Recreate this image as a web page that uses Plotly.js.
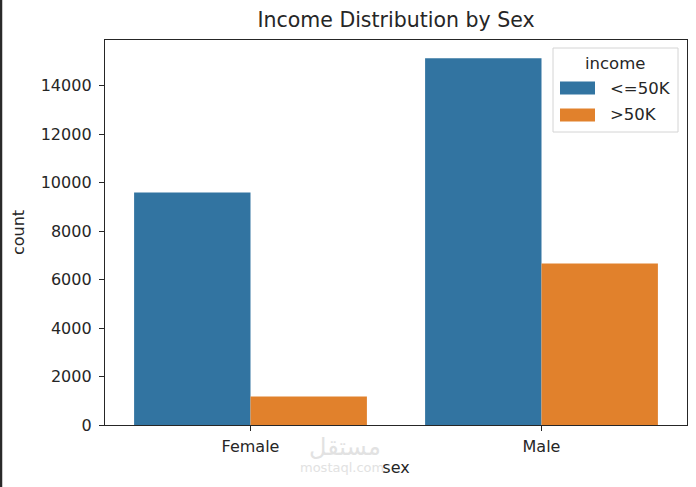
<!DOCTYPE html>
<html>
<head>
<meta charset="utf-8">
<script src="https://cdn.plot.ly/plotly-3.0.1.min.js"></script>
<style>html,body{margin:0;padding:0;background:#fff;}#chart{width:696px;height:487px;}</style>
</head>
<body>
<div id="chart"></div>
<script>
const sexes = ['Female', 'Male'];
const incomeLevels = ['<=50K', '>50K'];
const countLe50K = [9592, 15128];
const countGt50K = [1179, 6662];
const yTicks = [0, 2000, 4000, 6000, 8000, 10000, 12000, 14000];

const colors = ['#3274a1', '#e1812c'];
const F = 'DejaVu Sans, sans-serif';
const series = [countLe50K, countGt50K];

const traces = series.map((vals, i) => ({
  type: 'bar', x: sexes, y: vals, name: incomeLevels[i],
  marker: {color: colors[i], line: {width: 0}},
  showlegend: false, hoverinfo: 'x+y'
}));

const ymax = Math.max(...countLe50K, ...countGt50K) * 1.05;

// Legend built with shapes/annotations (matplotlib style)
const W = 582, H = 385;
const px = v => (v - 105) / W;
const py = v => 1 - (v - 40) / H;
const shapes = [
  {type:'rect', xref:'paper', yref:'paper', x0:px(553), x1:px(678), y0:py(132), y1:py(48),
   line:{color:'#d4d4d4', width:1}, fillcolor:'rgba(255,255,255,0.8)', layer:'above'},
  {type:'line', xref:'paper', yref:'paper', x0:px(1), x1:px(1), y0:py(487), y1:py(0),
   line:{color:'#2a2a2a', width:2.5}}
];
const annotations = [
  {text:'income', xref:'paper', yref:'paper', x:px(615), y:py(63), showarrow:false,
   xanchor:'center', yanchor:'middle', font:{family:F, size:16.5, color:'#262626'}},
  {text:'مستقل', xref:'paper', yref:'paper', x:px(345), y:py(447), showarrow:false,
   xanchor:'center', yanchor:'middle', font:{family:'DejaVu Sans, sans-serif', size:24, color:'#e2e2e2'}},
  {text:'mostaql.com', xref:'paper', yref:'paper', x:px(342), y:py(467), showarrow:false,
   xanchor:'center', yanchor:'middle', font:{family:F, size:13, color:'#e2e2e2'}}
];
incomeLevels.forEach((lab, i) => {
  const yc = 88 + i * 27;
  shapes.push({type:'rect', xref:'paper', yref:'paper', x0:px(560), x1:px(595),
    y0:py(yc + 6.5), y1:py(yc - 6.5), fillcolor:colors[i], line:{width:0}, layer:'above'});
  annotations.push({text:lab, xref:'paper', yref:'paper', x:px(608), y:py(yc), showarrow:false,
    xanchor:'left', yanchor:'middle', font:{family:F, size:16.5, color:'#262626'}});
});

const layout = {
  width: 696, height: 487,
  margin: {l: 105, r: 9, t: 40, b: 62},
  paper_bgcolor: '#fff', plot_bgcolor: '#fff',
  font: {family: F, size: 16, color: '#262626'},
  title: {text: 'Income Distribution by Sex', x: 0.5, xref: 'paper', xanchor: 'center',
          y: 1 - 20 / 487, yref: 'container', yanchor: 'middle',
          font: {family: F, size: 20.5, color: '#262626'}},
  barmode: 'group', bargap: 0.2, bargroupgap: 0,
  xaxis: {range: [-0.5, 1.5], showline: true, mirror: true, linecolor: '#262626', linewidth: 1.2,
          ticks: 'outside', ticklen: 5, tickcolor: '#262626', showgrid: false, zeroline: false,
          ticklabelstandoff: 2,
          tickfont: {family: F, size: 16, color: '#262626'},
          title: {text: 'sex', standoff: 6, font: {family: F, size: 16, color: '#262626'}}},
  yaxis: {range: [0, ymax], tickvals: yTicks, ticktext: yTicks.map(String),
          showline: true, mirror: true, linecolor: '#262626', linewidth: 1.2,
          ticks: 'outside', ticklen: 5, tickcolor: '#262626', showgrid: false, zeroline: false,
          ticklabelstandoff: 4,
          tickfont: {family: F, size: 16, color: '#262626'},
          title: {text: 'count', standoff: 12, font: {family: F, size: 16, color: '#262626'}}},
  shapes: shapes, annotations: annotations, showlegend: false
};

Plotly.newPlot('chart', traces, layout, {displayModeBar: false, staticPlot: true});
</script>
</body>
</html>
